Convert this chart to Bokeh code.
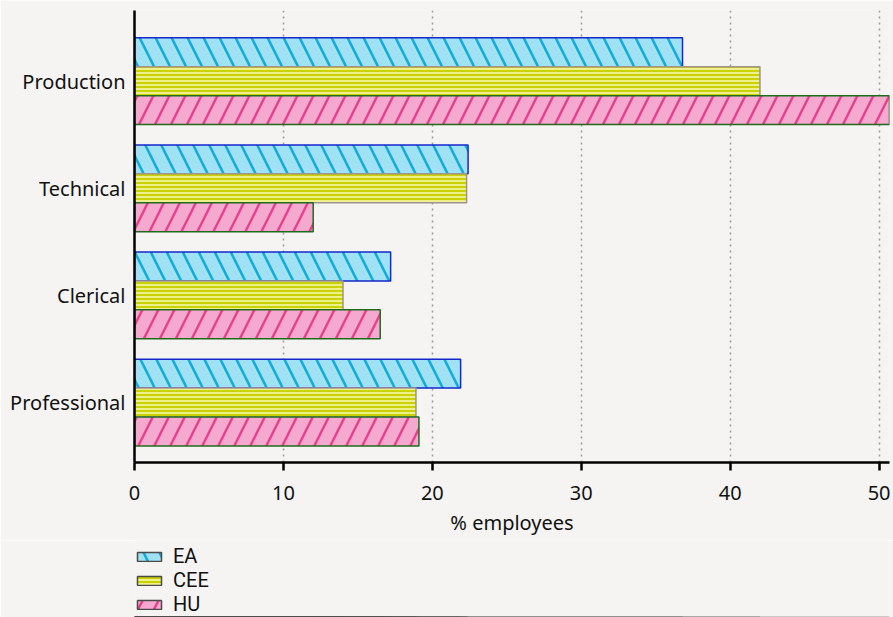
from bokeh.plotting import figure
from bokeh.models import ColumnDataSource, Range1d, FixedTicker, Legend, LegendItem
from bokeh.layouts import column
from bokeh.transform import dodge
from bokeh.embed import file_html
from bokeh.resources import INLINE

categories = ["Professional", "Clerical", "Technical", "Production"]
series = ["EA", "CEE", "HU"]
ea = [21.9, 17.2, 22.4, 36.8]
cee = [18.9, 14.0, 22.3, 42.0]
hu = [19.1, 16.5, 12.0, 50.7]
x_ticks = [0, 10, 20, 30, 40, 50]

FONT = "Noto Sans"
FS = "20px"
BG = "#f5f4f2"

src = ColumnDataSource(dict(y=list(range(len(categories))), cat=categories, EA=ea, CEE=cee, HU=hu))

p = figure(width=893, height=540, output_backend="svg", toolbar_location=None,
           x_range=Range1d(0, 50.7), y_range=Range1d(-0.56, 3.66),
           background_fill_color=BG, border_fill_color=BG,
           min_border_left=134, min_border_right=4, min_border_top=10, min_border_bottom=78)
p.outline_line_color = None

styles = {
    "EA": dict(fill_color="#a0e2f4", hatch_pattern="\\", hatch_color="#12a9dc", hatch_weight=2.5,
               hatch_scale=32, line_color="#1428cc", offset=0.27),
    "CEE": dict(fill_color="#eef08e", hatch_pattern="-", hatch_color="#cad300", hatch_weight=2,
                hatch_scale=4, line_color="#a09490", offset=0.0),
    "HU": dict(fill_color="#f6a9cf", hatch_pattern="/", hatch_color="#e6428c", hatch_weight=2.5,
               hatch_scale=32, line_color="#1e6b1e", offset=-0.27),
}

# legend figure (holds only the legend; its ranges keep its bars out of view)
pl = figure(width=893, height=77, output_backend="svg", toolbar_location=None,
            x_range=Range1d(0, 50.7), y_range=Range1d(100, 101),
            x_axis_location=None, y_axis_location=None,
            background_fill_color=BG, border_fill_color=BG,
            min_border_left=134, min_border_right=4, min_border_top=0, min_border_bottom=0)
pl.outline_line_color = None
pl.grid.visible = False

items = []
for s in series:
    st = styles[s]
    p.hbar(y=dodge("y", st["offset"], range=p.y_range), right=s, left=0, height=0.27, source=src,
           fill_color=st["fill_color"], hatch_pattern=st["hatch_pattern"], hatch_color=st["hatch_color"],
           hatch_weight=st["hatch_weight"], hatch_scale=st["hatch_scale"],
           line_color=st["line_color"], line_width=1.5)
    r = pl.hbar(y="y", right=s, left=0, height=0.27, source=src,
                fill_color=st["fill_color"], hatch_pattern=st["hatch_pattern"], hatch_color=st["hatch_color"],
                hatch_weight=st["hatch_weight"], hatch_scale=st["hatch_scale"],
                line_color="#4a4a4a", line_width=1.5)
    items.append(LegendItem(label=s, renderers=[r]))

legend = Legend(items=items, location=(0, 1), orientation="vertical",
                glyph_width=30, glyph_height=11, label_standoff=9, spacing=0, padding=0,
                margin=0, background_fill_alpha=0, border_line_color=None,
                label_text_font="Roboto", label_text_font_size=FS, label_text_color="#111111",
                label_height=12)
pl.add_layout(legend, "center")

# axes
p.xaxis.ticker = FixedTicker(ticks=x_ticks)
p.xaxis.axis_label = "% employees"
p.xaxis.axis_label_text_font = FONT
p.xaxis.axis_label_text_font_size = FS
p.xaxis.axis_label_text_font_style = "normal"
p.xaxis.axis_label_standoff = 6
p.xaxis.major_label_text_font = FONT
p.xaxis.major_label_text_font_size = FS
p.xaxis.major_label_standoff = 15
p.xaxis.axis_line_width = 2.5
p.xaxis.major_tick_line_width = 2.5
p.xaxis.major_tick_out = 8
p.xaxis.major_tick_in = 0
p.xaxis.minor_tick_line_color = None

p.yaxis.ticker = FixedTicker(ticks=list(range(len(categories))))
p.yaxis.major_label_overrides = {i: c for i, c in enumerate(categories)}
p.yaxis.major_label_text_font = FONT
p.yaxis.major_label_text_font_size = FS
p.yaxis.axis_line_width = 2.5
p.yaxis.major_tick_line_color = None
p.yaxis.major_tick_out = 0
p.yaxis.major_tick_in = 0
p.yaxis.minor_tick_line_color = None
p.yaxis.major_label_standoff = 9

for ax in (p.xaxis, p.yaxis):
    ax.axis_line_color = "black"
    ax.major_label_text_color = "#111111"
    ax.axis_label_text_color = "#111111"

p.ygrid.grid_line_color = None
p.xgrid.grid_line_color = "#9a9a9a"
p.xgrid.grid_line_dash = "2 4"
p.xgrid.grid_line_width = 1.5

layout = column(p, pl, spacing=0)
open("out.html", "w").write(file_html(layout, INLINE))
